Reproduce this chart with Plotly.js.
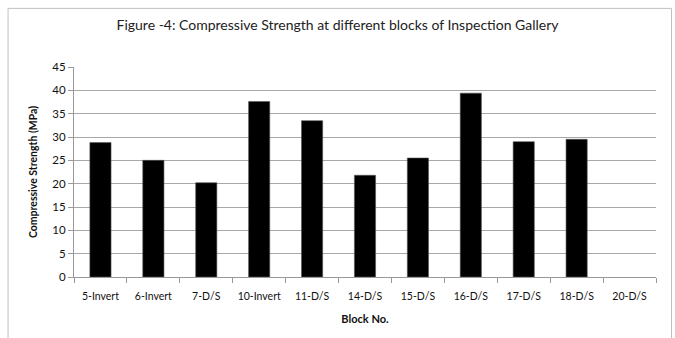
<!DOCTYPE html>
<html>
<head>
<meta charset="utf-8">
<script src="https://cdn.plot.ly/plotly-3.0.1.min.js"></script>
<style>html,body{margin:0;padding:0;background:#fff;}#chart{width:675px;height:338px;}</style>
</head>
<body>
<div id="chart"></div>
<script>
var blocks = ["5-Invert","6-Invert","7-D/S","10-Invert","11-D/S","14-D/S","15-D/S","16-D/S","17-D/S","18-D/S","20-D/S"];
var strength = [28.8, 25.0, 20.2, 37.6, 33.5, 21.8, 25.5, 39.4, 29.0, 29.5, null];
var yTicks = [0,5,10,15,20,25,30,35,40,45];

var trace = {
  type: "bar",
  x: blocks,
  y: strength,
  width: 0.4,
  marker: {color: "#000000", line: {color: "#555555", width: 0.6}},
  hoverinfo: "skip"
};

var font = "Lato, 'Liberation Sans', sans-serif";
var L = 73.5, R = 19, T = 66.7, B = 61.3;
var layout = {
  width: 675, height: 338,
  margin: {l: L, r: R, t: T, b: B},
  paper_bgcolor: "#ffffff", plot_bgcolor: "#ffffff",
  showlegend: false,
  font: {family: font, color: "#000"},
  title: {text: "Figure -4: Compressive Strength at different blocks of Inspection Gallery",
          font: {family: font, size: 14, color: "#222"}, x: 0.5, xanchor: "center", y: 0.925, yanchor: "middle"},
  xaxis: {
    type: "category", categoryorder: "array", categoryarray: blocks,
    range: [-0.5, 10.5],
    tickson: "boundaries", ticks: "outside", ticklen: 5, tickcolor: "#999", tickwidth: 1,
    tickangle: 0, ticklabelstandoff: 9,
    showline: true, linecolor: "#999", linewidth: 1,
    showgrid: false,
    tickfont: {family: font, size: 10.5, color: "#111"},
    title: {text: "<b>Block No.</b>", font: {family: font, size: 11, color: "#111"}, standoff: 14}
  },
  yaxis: {
    range: [0, 45], tickvals: yTicks, ticktext: yTicks.map(String),
    ticks: "outside", ticklen: 5, tickcolor: "#999",
    showline: true, linecolor: "#999", linewidth: 1,
    showgrid: true, gridcolor: "#a8a8a8", gridwidth: 1,
    zeroline: false,
    tickfont: {family: font, size: 11.5, color: "#111"},
    title: {text: "<b>Compressive Strength (MPa)</b>", font: {family: font, size: 10.5, color: "#111"}, standoff: 12}
  },
  bargap: 0.6
};
layout.shapes = [{type: "rect", xref: "paper", yref: "paper",
  x0: (7.5 - L) / (675 - L - R), x1: (671.5 - L) / (675 - L - R),
  y0: -2, y1: (277 - 8) / (277 - T),
  line: {color: "#c0c0c0", width: 1}, fillcolor: "rgba(0,0,0,0)", layer: "below"}];

Plotly.newPlot("chart", [trace], layout, {staticPlot: true, displayModeBar: false});
</script>
</body>
</html>
